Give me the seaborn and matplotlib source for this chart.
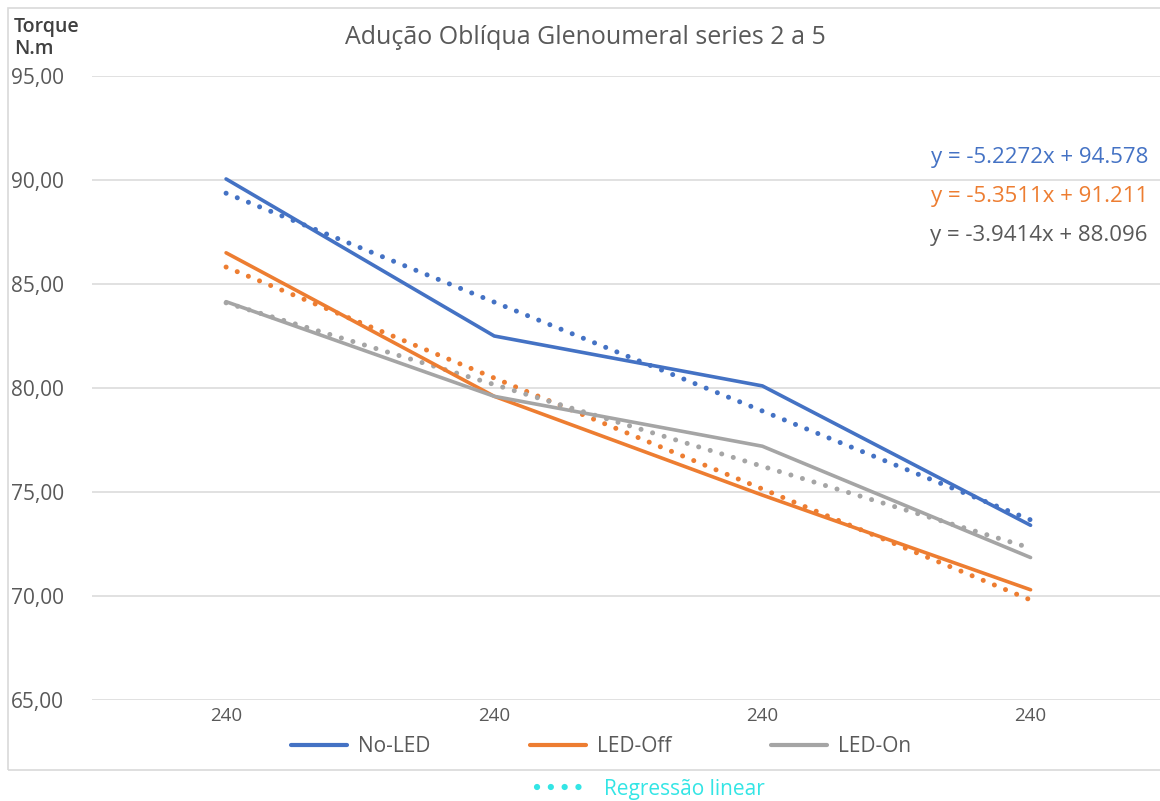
import numpy as np
import pandas as pd
import seaborn as sns
import matplotlib
matplotlib.use("Agg")
import matplotlib.pyplot as plt
from matplotlib.lines import Line2D
from matplotlib.patches import Rectangle
from matplotlib.ticker import FuncFormatter

# ---- data ----
x_labels = ["240", "240", "240", "240"]
no_led = [90.05, 82.5, 80.1, 73.4]
led_off = [86.5, 79.6, 74.85, 70.3]
led_on = [84.15, 79.6, 77.2, 71.85]
series_names = ["No-LED", "LED-Off", "LED-On"]
equations = ["y = -5.2272x + 94.578", "y = -5.3511x + 91.211", "y = -3.9414x + 88.096"]
title = "Adução Oblíqua Glenoumeral series 2 a 5"
y_label = "Torque\nN.m"
reg_label = "Regressão linear"

colors = ["#4472C4", "#ED7D31", "#A5A5A5"]
eq_colors = ["#4472C4", "#ED7D31", "#595959"]

pos = np.arange(1, len(x_labels) + 1)
df = pd.DataFrame({
    "pos": np.tile(pos, 3),
    "torque": no_led + led_off + led_on,
    "group": np.repeat(series_names, len(pos)),
})

sns.set_theme(style="white")
plt.rcParams["font.family"] = ["Open Sans", "DejaVu Sans"]

fig = plt.figure(figsize=(11.6, 8.01), dpi=100)
ax = fig.add_axes([92 / 1160, 1 - 700 / 801, 1 - 92 / 1160 + 0.004, (700 - 76) / 801])

# chart border
fig.patches.append(Rectangle((8 / 1160, 1 - 770 / 801), 1.2, (770 - 8) / 801,
                             transform=fig.transFigure, fill=False,
                             edgecolor="#D9D9D9", lw=1.2, zorder=0))

sns.lineplot(data=df, x="pos", y="torque", hue="group", palette=colors,
             hue_order=series_names, lw=2.6, ax=ax, legend=False, zorder=3)

for name, c in zip(series_names, colors):
    sub = df[df["group"] == name]
    sns.regplot(data=sub, x="pos", y="torque", scatter=False, ci=None, ax=ax,
                color=c, truncate=True,
                line_kws={"ls": (0, (0.01, 2.4)), "lw": 3.6,
                          "dash_capstyle": "round", "zorder": 2})

ax.set_xlim(0.5, 4.5)
ax.set_ylim(65, 95)
ax.set_yticks(np.arange(65, 96, 5))
ax.yaxis.set_major_formatter(FuncFormatter(lambda v, p: f"{v:.2f}".replace(".", ",")))
ax.set_xticks(pos)
ax.set_xticklabels(x_labels)
ax.grid(axis="y", color="#D9D9D9", lw=1.1)
ax.grid(axis="x", visible=False)
for s in ax.spines.values():
    s.set_visible(False)
ax.tick_params(axis="y", labelsize=15, colors="#595959", pad=20, length=0)
ax.tick_params(axis="x", labelsize=13.5, colors="#595959", pad=5, length=0)
ax.set_xlabel("")
ax.set_ylabel("")

fig.text(585 / 1160, 1 - 37 / 801, title, ha="center", va="center",
         fontsize=18, color="#595959")
fig.text(14 / 1160, 1 - 38 / 801, y_label, ha="left", va="center",
         fontsize=14, color="#404040", fontweight="semibold", linespacing=1.1)

for i, (eq, c) in enumerate(zip(equations, eq_colors)):
    fig.text(1148 / 1160, 1 - (157 + 39.5 * i) / 801, eq, ha="right", va="center",
             fontsize=16, color=c)

handles = [Line2D([0], [0], color=c, lw=3) for c in colors]
fig.legend(handles, series_names, loc="center", ncol=3,
           bbox_to_anchor=(601 / 1160, 1 - 747 / 801), frameon=False,
           fontsize=15, labelcolor="#595959", handlelength=2.7,
           columnspacing=4.8, handletextpad=0.5)

reg_handle = [Line2D([0], [0], color="#33E5E5", lw=4.5, ls=(0, (0.01, 2.2)),
                     dash_capstyle="round")]
fig.legend(reg_handle, [reg_label], loc="center",
           bbox_to_anchor=(651 / 1160, 1 - 789 / 801), frameon=False,
           fontsize=15, labelcolor="#33E5E5", handlelength=2.3, handletextpad=0.9)

fig.savefig("out.png", dpi=100)
